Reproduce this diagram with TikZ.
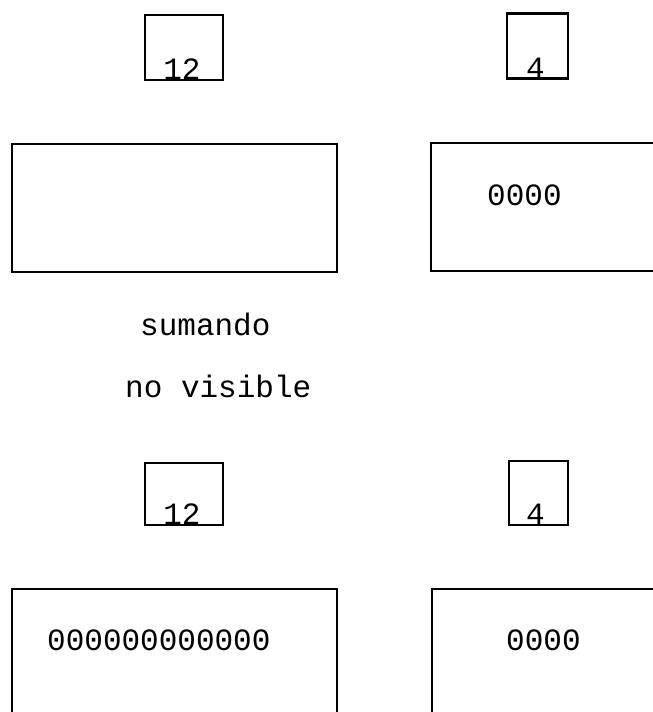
\documentclass[tikz,border=0pt]{standalone}
\usepackage{fontspec}
\setmonofont{Liberation Mono}
\usepackage{tikz}
\usetikzlibrary{positioning}

\begin{document}
\begin{tikzpicture}[
        x=1pt, y=-1pt,
        every node/.style={
            font=\ttfamily\fontsize{31}{31}\selectfont,
            inner sep=0pt
        },
        sizebox/.style={
            rectangle,
            draw=black,
            line width=2.2pt,
            minimum height=65
        },
        regbox/.style={
            rectangle,
            draw=black,
            line width=2.2pt
        },
        digits/.style={
            anchor=base west
        }
    ]

    \useasboundingbox (0,0) rectangle (653,712);
    \clip (0,0) rectangle (653,712);

    % Upper pair
    \node[sizebox, minimum width=78] (sizeA) at (184,47.5) {};
    \node[sizebox, minimum width=61] (sizeB) at (537.5,46) {};
    \node[anchor=base] (lenA) at (182,79) {12};
    \node[anchor=base] (lenB) at (535.5,78.5) {4};

    \node[regbox, minimum width=325, minimum height=128] (regA) at (174.5,208) {};
    \node[regbox, minimum width=260, minimum height=128] (regB) at (561,207) {};
    \node[digits] (valB) at (487,205) {0000};

    % Caption
    \node[digits] (capA) at (140,335) {sumando};
    \node[digits] (capB) at (125,397) {no visible};

    % Lower pair
    \node[sizebox, minimum width=78, minimum height=62] (sizeC) at (184,494) {};
    \node[sizebox, minimum width=59, minimum height=64] (sizeD) at (538.5,493) {};
    \node[anchor=base] (lenC) at (182,524) {12};
    \node[anchor=base] (lenD) at (535.5,524) {4};

    \node[regbox, minimum width=325, minimum height=180] (regC) at (174.5,679) {};
    \node[regbox, minimum width=260, minimum height=180] (regD) at (562,679) {};
    \node[digits] (valC) at (47,650) {000000000000};
    \node[digits] (valD) at (506,650) {0000};

\end{tikzpicture}
\end{document}
